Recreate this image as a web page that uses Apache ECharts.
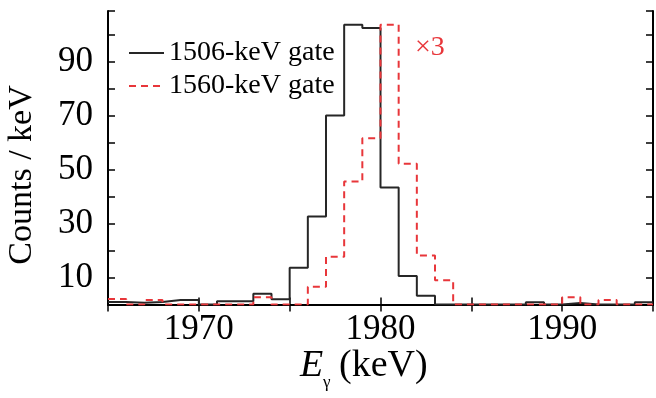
<!DOCTYPE html>
<html><head><meta charset="utf-8">
<script src="https://cdn.jsdelivr.net/npm/echarts@6/dist/echarts.min.js"></script>
<style>html,body{margin:0;padding:0;background:#fff}#c{width:656px;height:398px}</style>
</head><body><div id="c"></div>
<script>
// bin start energies (keV), 1-keV bins
const binStarts = [1965,1966,1967,1968,1969,1970,1971,1972,1973,1974,
                   1975,1976,1977,1978,1979,1980,1981,1982,1983,1984,
                   1985,1986,1987,1988,1989,1990,1991,1992,1993,1994];
const binEnd = 1995;
// counts / keV, 1506-keV gate
const gate1506 = [1.0,0.7,1.0,1.7,1.7,0,1.2,1.2,4.0,2.0,
                  13.7,32.7,70.2,103.9,102.7,43.5,10.6,3.3,0,0,
                  0,0,0,0.9,0,0.6,0,0,0,0.9];
// counts / keV (x3), 1560-keV gate
const gate1560 = [2.1,0,1.7,0,0,0,0,0,2.7,0,
                  0,6.6,17.8,45.7,61.8,103.9,52.3,18.2,9.0,0,
                  0,0,0,0,0,2.7,0,1.7,0,0];
const seriesNames = ['1506-keV gate','1560-keV gate'];
const xTickLabels = [1970,1980,1990];
const yTickLabels = [10,30,50,70,90];
const scaleNote = '×3';

const FONT = '"Liberation Serif","Times New Roman",serif';
const BLACK = '#262626';
const RED = '#e8363a';

function toSteps(vals){
  const d = binStarts.map((e,i)=>[e, vals[i]]);
  d.push([binEnd, vals[vals.length-1]]);
  return d;
}

const axisLineStyle = {lineStyle:{color:'#000', width:2}};
const tickStyle = {inside:true, length:7, lineStyle:{color:'#000', width:1.5}};

const chart = echarts.init(document.getElementById('c'), null, {renderer:'canvas'});
chart.setOption({
  animation:false,
  backgroundColor:'#fff',
  grid:{left:108, top:11, width:550, height:293.6, containLabel:false},
  legend:{
    orient:'vertical', left:123, top:34,
    itemWidth:35, itemHeight:14, itemGap:5,
    itemStyle:{color:'rgba(0,0,0,0)', borderWidth:0, opacity:0},
    textStyle:{fontFamily:FONT, fontSize:28, color:'#000', lineHeight:28, padding:[0,0,0,0]},
    data:seriesNames
  },
  xAxis:[
    {type:'value', min:1965, max:1995, interval:5, position:'bottom',
     axisLine:axisLineStyle, axisTick:tickStyle, splitLine:{show:false},
     axisLabel:{fontFamily:FONT, fontSize:35, color:'#000', margin:8,
       formatter:v=> xTickLabels.includes(v) ? String(v) : ''}},
    {type:'value', min:1965, max:1995, interval:5, position:'top',
     axisLine:axisLineStyle, axisTick:tickStyle, splitLine:{show:false},
     axisLabel:{show:false}}
  ],
  yAxis:[
    {type:'value', min:0, max:109, interval:10, position:'left',
     axisLine:axisLineStyle, axisTick:tickStyle, splitLine:{show:false},
     axisLabel:{fontFamily:FONT, fontSize:35, color:'#000', margin:15,
       formatter:v=> yTickLabels.includes(v) ? String(v) : ''}},
    {type:'value', min:0, max:109, interval:10, position:'right',
     axisLine:axisLineStyle, axisTick:tickStyle, splitLine:{show:false},
     axisLabel:{show:false}}
  ],
  series:[
    {name:seriesNames[0], type:'line', step:'end', symbol:'none',
     data:toSteps(gate1506), lineStyle:{color:BLACK, width:2}, itemStyle:{color:BLACK}, z:2},
    {name:seriesNames[1], type:'line', step:'end', symbol:'none',
     data:toSteps(gate1560), lineStyle:{color:RED, width:2, type:[7,5]}, itemStyle:{color:RED}, z:3}
  ],
  graphic:[
    {type:'text', x:22, y:175, rotation:Math.PI/2,
     style:{text:'Counts / keV', font:'34px '+FONT, fill:'#000', align:'center', verticalAlign:'middle'}},
    {type:'text', x:300, y:366,
     style:{text:'E', font:'italic 38px '+FONT, fill:'#000', align:'left', verticalAlign:'middle'}},
    {type:'text', x:323, y:383,
     style:{text:'γ', font:'17px '+FONT, fill:'#000', align:'left', verticalAlign:'middle'}},
    {type:'text', x:339, y:366,
     style:{text:'(keV)', font:'38px '+FONT, fill:'#000', align:'left', verticalAlign:'middle'}},
    {type:'text', x:415, y:48,
     style:{text:scaleNote, font:'28px '+FONT, fill:RED, align:'left', verticalAlign:'middle'}}
  ]
});
</script></body></html>
